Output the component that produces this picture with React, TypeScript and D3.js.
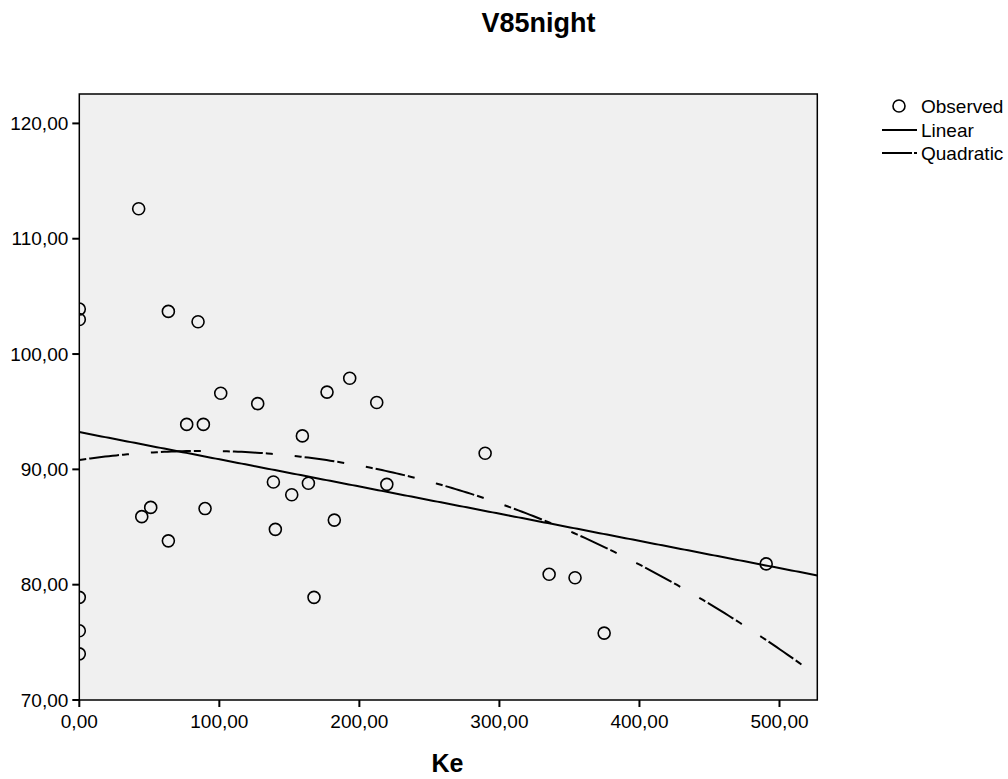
import React from "react";
import * as d3 from "d3";

const keValues: number[] = [
  0, 0, 0, 0, 0,
  42.4, 63.6, 84.8, 101, 127.4, 76.7, 88.6, 159.3, 176.9, 193.1, 212.4, 289.8,
  138.6, 163.6, 151.7, 219.6, 182.1, 167.6, 51, 44.6, 89.8, 63.6, 140,
  335.5, 354, 374.8, 490.5,
];
const v85Values: number[] = [
  103.9, 103.0, 78.9, 76.0, 74.0,
  112.6, 103.7, 102.8, 96.6, 95.7, 93.9, 93.9, 92.9, 96.7, 97.9, 95.8, 91.4,
  88.9, 88.8, 87.8, 88.7, 85.6, 78.9, 86.7, 85.9, 86.6, 83.8, 84.8,
  80.9, 80.6, 75.8, 81.8,
];
const xTicks: number[] = [0, 100, 200, 300, 400, 500];
const yTicks: number[] = [70, 80, 90, 100, 110, 120];
const legendLabels: string[] = ["Observed", "Linear", "Quadratic"];
const titleText = "V85night";
const xAxisTitle = "Ke";

// least squares polynomial fit
function polyFit(xs: number[], ys: number[], degree: number): number[] {
  const n = degree + 1;
  const A: number[][] = Array.from({ length: n }, () => new Array(n + 1).fill(0));
  for (let k = 0; k < xs.length; k++) {
    for (let i = 0; i < n; i++) {
      for (let j = 0; j < n; j++) A[i][j] += Math.pow(xs[k], i + j);
      A[i][n] += ys[k] * Math.pow(xs[k], i);
    }
  }
  for (let i = 0; i < n; i++) {
    let p = i;
    for (let r = i + 1; r < n; r++) if (Math.abs(A[r][i]) > Math.abs(A[p][i])) p = r;
    [A[i], A[p]] = [A[p], A[i]];
    for (let r = 0; r < n; r++) {
      if (r === i) continue;
      const f = A[r][i] / A[i][i];
      for (let c = i; c <= n; c++) A[r][c] -= f * A[i][c];
    }
  }
  return A.map((row, i) => row[n] / row[i]);
}

const fmt = (v: number) => d3.format(".2f")(v).replace(".", ",");

export default function App() {
  const W = 1008, H = 779;
  const left = 79.3, right = 817.3, top = 94, bottom = 700;
  const x = d3.scaleLinear().domain([0, 527]).range([left, right]);
  const y = d3.scaleLinear().domain([70, 122.55]).range([bottom, top]);

  const lin = polyFit(keValues, v85Values, 1);
  const quad = polyFit(keValues, v85Values, 2);
  const xs = d3.range(0, 527.01, 527 / 200);
  const line = d3.line<[number, number]>().x(d => x(d[0])).y(d => y(d[1]));
  const linPath = line(xs.map(v => [v, lin[0] + lin[1] * v] as [number, number]))!;
  const quadPath = line(xs.map(v => [v, quad[0] + quad[1] * v + quad[2] * v * v] as [number, number]))!;

  const font = "'Liberation Sans', Arial, sans-serif";
  const dash = "7,3,30,3,7,22";

  return (
    <svg width={W} height={H} style={{ position: "absolute", left: 0, top: 0 }} fontFamily={font}>
      <rect x={0} y={0} width={W} height={H} fill="#fff" />
      <text x={538.5} y={32} textAnchor="middle" fontSize={27} fontWeight="bold">{titleText}</text>
      <defs>
        <clipPath id="plotClip">
          <rect x={left} y={top} width={right - left} height={bottom - top} />
        </clipPath>
      </defs>
      <rect x={left} y={top} width={right - left} height={bottom - top} fill="#f0f0f0" />
      <g clipPath="url(#plotClip)">
        <path d={linPath} fill="none" stroke="#000" strokeWidth={2} />
        <path d={quadPath} fill="none" stroke="#000" strokeWidth={2} strokeDasharray={dash} />
        {keValues.map((k, i) => (
          <circle key={i} cx={x(k)} cy={y(v85Values[i])} r={6} fill="none" stroke="#000" strokeWidth={1.6} />
        ))}
      </g>
      <rect x={left} y={top} width={right - left} height={bottom - top} fill="none" stroke="#000" strokeWidth={1.5} />
      {yTicks.map(t => (
        <g key={"y" + t}>
          <line x1={left - 7} x2={left} y1={y(t)} y2={y(t)} stroke="#000" strokeWidth={2} />
          <text x={left - 11} y={y(t)} dy="0.35em" textAnchor="end" fontSize={19}>{fmt(t)}</text>
        </g>
      ))}
      {xTicks.map(t => (
        <g key={"x" + t}>
          <line x1={x(t)} x2={x(t)} y1={bottom} y2={bottom + 7} stroke="#000" strokeWidth={2} />
          <text x={x(t)} y={bottom + 28} textAnchor="middle" fontSize={19}>{fmt(t)}</text>
        </g>
      ))}
      <text x={447.5} y={772} textAnchor="middle" fontSize={25} fontWeight="bold">{xAxisTitle}</text>
      <g fontSize={19}>
        <circle cx={899} cy={106} r={6} fill="none" stroke="#000" strokeWidth={1.6} />
        <text x={921} y={113}>{legendLabels[0]}</text>
        <line x1={882} x2={917} y1={130} y2={130} stroke="#000" strokeWidth={2} />
        <text x={921} y={137}>{legendLabels[1]}</text>
        <line x1={882} x2={917} y1={153} y2={153} stroke="#000" strokeWidth={2} strokeDasharray="30,2,3" />
        <text x={921} y={160}>{legendLabels[2]}</text>
      </g>
    </svg>
  );
}
